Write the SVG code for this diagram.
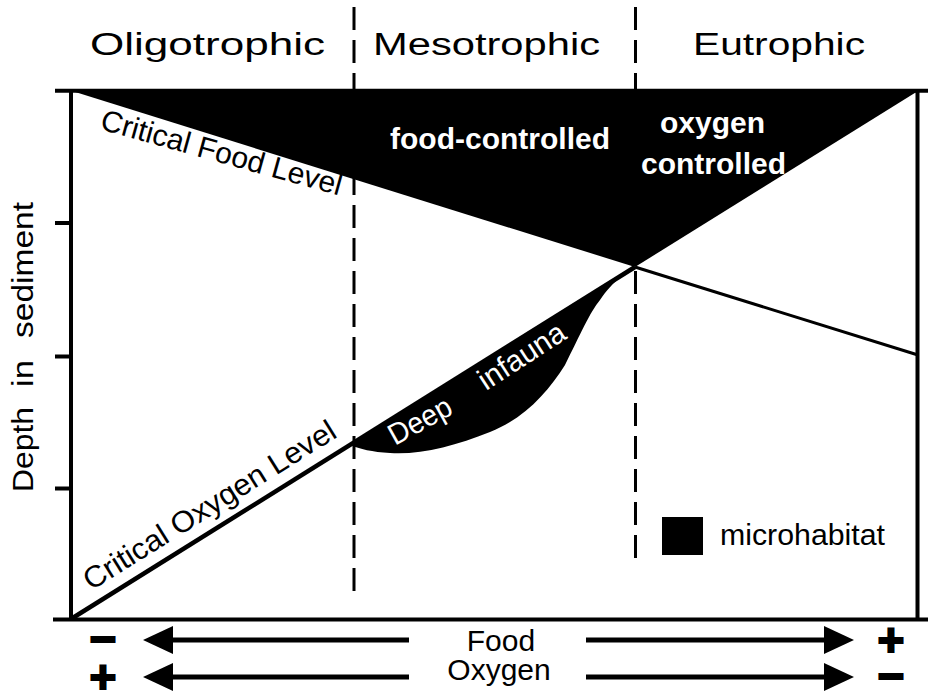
<svg xmlns="http://www.w3.org/2000/svg" width="928" height="692" viewBox="0 0 928 692">
  <style>
    .axis { stroke: #000; stroke-width: 4; fill: none; }
    .dash { stroke: #000; stroke-width: 3; stroke-dasharray: 23 10; fill: none; }
    .lvl { stroke: #000; fill: none; }
    .blk { fill: #000; stroke: none; }
    .head { font-family: "Liberation Sans", Arial, sans-serif; font-size: 31px; fill: #000; text-anchor: middle; }
    .lab { font-family: "Liberation Sans", Arial, sans-serif; font-size: 30px; fill: #000; }
    .wht { font-family: "Liberation Sans", Arial, sans-serif; font-size: 30px; fill: #fff; }
    .bold { font-family: "Liberation Sans", Arial, sans-serif; font-size: 30px; font-weight: bold; fill: #fff; text-anchor: middle; }
    .sign { font-family: "Liberation Sans", Arial, sans-serif; font-size: 46px; font-weight: bold; fill: #000; stroke: #000; stroke-width: 2; text-anchor: middle; }
    .arr { stroke: #000; stroke-width: 5; fill: none; }
  </style>
  <defs>
    <marker id="arrowhead" markerUnits="userSpaceOnUse" markerWidth="30" markerHeight="28" refX="0" refY="14" orient="auto">
      <path d="M0,0 L30,14 L0,28 Z" fill="#000"/>
    </marker>
  </defs>

  <rect width="928" height="692" fill="#fff"/>

  <!-- trophic zone boundaries -->
  <g id="zone-boundaries">
    <line class="dash" x1="354" y1="7" x2="354" y2="591"/>
    <line class="dash" x1="635.5" y1="7" x2="635.5" y2="558"/>
  </g>

  <!-- zone headings -->
  <g id="headings">
    <text class="head" x="207.5" y="55" textLength="235" lengthAdjust="spacingAndGlyphs">Oligotrophic</text>
    <text class="head" x="486.5" y="55" textLength="227" lengthAdjust="spacingAndGlyphs">Mesotrophic</text>
    <text class="head" x="779" y="55" textLength="172" lengthAdjust="spacingAndGlyphs">Eutrophic</text>
  </g>

  <!-- upper microhabitat wedge -->
  <g id="upper-microhabitat">
    <polygon class="blk" points="72,91 918,91 635,267"/>
    <text class="bold" x="500" y="149" textLength="220" lengthAdjust="spacingAndGlyphs">food-controlled</text>
    <text class="bold" x="712.5" y="133">oxygen</text>
    <text class="bold" x="713.5" y="174">controlled</text>
  </g>

  <!-- deep infauna microhabitat -->
  <g id="deep-infauna">
    <path class="blk" d="M350,445 L635,267 C628,270 612,282 600,300 C590,312 580,335 565,365 C548,392 525,418 490,432 C455,446 420,455 390,453 C372,452 360,449 350,445 Z"/>
    <text class="wht" transform="translate(395,446) rotate(-29)" textLength="68" lengthAdjust="spacingAndGlyphs">Deep</text>
    <text class="wht" transform="translate(486,391) rotate(-33)" textLength="98" lengthAdjust="spacingAndGlyphs">infauna</text>
  </g>

  <!-- critical level lines -->
  <g id="connectors">
    <line class="lvl" stroke-width="3" x1="635" y1="267" x2="918" y2="355"/>
    <line class="lvl" stroke-width="4.5" x1="71" y1="619" x2="635" y2="267"/>
  </g>

  <g id="critical-food-level">
    <text class="lab" transform="translate(99,129) rotate(15.5)" textLength="249" lengthAdjust="spacingAndGlyphs">Critical Food Level</text>
  </g>

  <g id="critical-oxygen-level">
    <text class="lab" font-size="31" transform="translate(91,591) rotate(-32)" textLength="292" lengthAdjust="spacingAndGlyphs">Critical Oxygen Level</text>
  </g>

  <!-- axes frame -->
  <g id="frame">
    <line class="axis" x1="55" y1="90.7" x2="928" y2="90.7"/>
    <line class="axis" x1="53" y1="619.5" x2="928" y2="619.5"/>
    <line class="axis" x1="71" y1="89" x2="71" y2="621"/>
    <line class="axis" x1="917.5" y1="89" x2="917.5" y2="621"/>
    <line class="axis" x1="55" y1="223" x2="71" y2="223"/>
    <line class="axis" x1="55" y1="356.5" x2="71" y2="356.5"/>
    <line class="axis" x1="55" y1="488.5" x2="71" y2="488.5"/>
  </g>

  <!-- vertical axis title -->
  <g id="depth-label">
    <text class="lab" font-size="27" text-anchor="middle" transform="translate(33,449.5) rotate(-90)" textLength="85" lengthAdjust="spacingAndGlyphs">Depth</text>
    <text class="lab" font-size="27" text-anchor="middle" transform="translate(33,373.5) rotate(-90)" textLength="27" lengthAdjust="spacingAndGlyphs">in</text>
    <text class="lab" font-size="27" text-anchor="middle" transform="translate(33,270) rotate(-90)" textLength="136" lengthAdjust="spacingAndGlyphs">sediment</text>
  </g>

  <!-- gradient arrows -->
  <g id="food-gradient">
    <text class="sign" x="103" y="655">−</text>
    <line class="arr" x1="409" y1="640" x2="173" y2="640" marker-end="url(#arrowhead)"/>
    <text class="lab" font-size="29" text-anchor="middle" x="501" y="651">Food</text>
    <line class="arr" x1="586" y1="640" x2="824" y2="640" marker-end="url(#arrowhead)"/>
    <text class="sign" x="891" y="656">+</text>
  </g>
  <g id="oxygen-gradient">
    <text class="sign" x="103" y="693">+</text>
    <line class="arr" x1="409" y1="677" x2="173" y2="677" marker-end="url(#arrowhead)"/>
    <text class="lab" font-size="28" text-anchor="middle" x="499" y="680">Oxygen</text>
    <line class="arr" x1="586" y1="677" x2="824" y2="677" marker-end="url(#arrowhead)"/>
    <text class="sign" x="891" y="692">−</text>
  </g>

  <!-- legend -->
  <g id="legend">
    <rect class="blk" x="662" y="517" width="41" height="38"/>
    <text class="lab" x="720" y="545" textLength="165" lengthAdjust="spacingAndGlyphs">microhabitat</text>
  </g>
</svg>
